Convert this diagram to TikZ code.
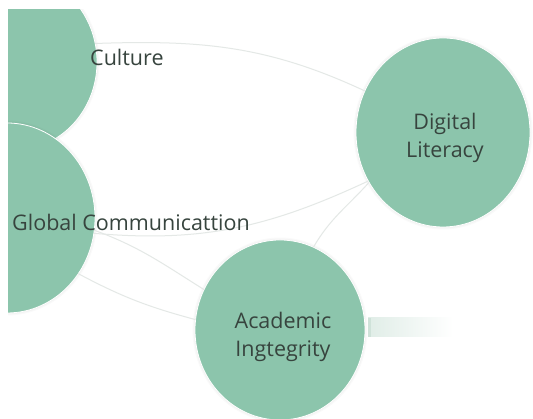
\documentclass[tikz,border=0pt]{standalone}
\usepackage{fontspec}
\setmainfont{Open Sans}
\usetikzlibrary{shapes.geometric}
\definecolor{bubble}{HTML}{8CC5AC}
\definecolor{ink}{HTML}{37443E}
\definecolor{linkgray}{HTML}{E4E8E6}
\definecolor{tagtint}{HTML}{E0EDE7}
\definecolor{tagedge}{HTML}{CFE2D9}
\begin{document}
\begin{tikzpicture}[x=1pt,y=1pt,
  topic/.style={ellipse, inner sep=0pt, outer sep=0pt, fill=bubble, draw=white, line width=0.8pt,
    preaction={draw=black, draw opacity=0.02, line width=5pt},
    preaction={draw=black, draw opacity=0.025, line width=2.8pt}},
  caption/.style={text=ink, font=\fontsize{21.5}{28}\selectfont, inner sep=0pt, align=center},
  link/.style={draw=linkgray, line width=1pt},
  tagbar/.style={rectangle, inner sep=0pt, minimum width=85pt, minimum height=19pt,
    left color=tagtint, right color=white}]
\useasboundingbox (0,0) rectangle (533,419);
\fill[white] (0,0) rectangle (533,419);
\clip (8,0) rectangle (533,409);
% topic bubbles
\node[topic, minimum width=164pt, minimum height=176pt] (cul) at (15,357) {};
\node[topic, minimum width=176pt, minimum height=190pt] (glo) at (7,201) {};
\node[topic, minimum width=174pt, minimum height=189pt] (dig) at (443,286.5) {};
\node[topic, minimum width=170pt, minimum height=180pt] (aca) at (280,89) {};
% links between topics
\draw[link] (cul.13) to[out=2,in=155] (dig.152);
\draw[link] (glo.-10) to[out=-5,in=205] (dig.213);
\draw[link] (glo.-8) to[out=-20,in=148] (aca.152);
\draw[link] (glo.-38) to[out=-28,in=165] (aca.173);
\draw[link] (dig.214) to[out=228,in=60] (aca.68);
% faded tag beside Academic Ingtegrity
\node[tagbar] (tag) at (410.5,91.5) {};
\fill[tagedge] (tag.north west) rectangle ([xshift=3pt]tag.south west);
% captions
\node[caption, anchor=base west] (culname) at (90,353) {Culture};
\node[caption, anchor=base west] (gloname) at (12,188.4) {Global Communicattion};
\node[caption] (digname) at (445,281.5) {Digital\\Literacy};
\node[caption] (acaname) at (283,82.2) {Academic\\Ingtegrity};
\end{tikzpicture}
\end{document}
